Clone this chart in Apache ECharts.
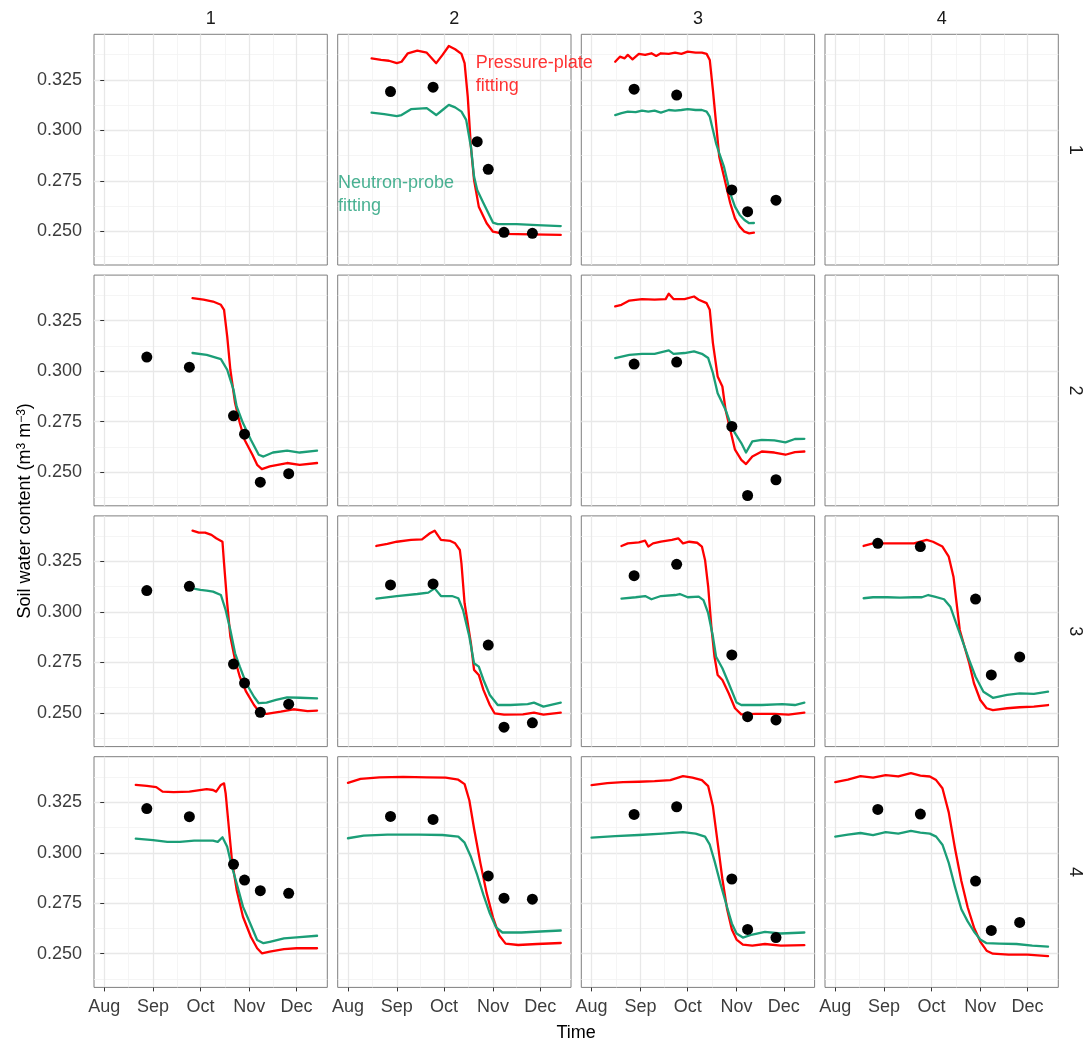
<!DOCTYPE html>
<html>
<head>
<meta charset="utf-8">
<script src="https://cdn.jsdelivr.net/npm/echarts@6/dist/echarts.min.js"></script>
<style>
  html, body { margin: 0; padding: 0; background: #ffffff; }
  #chart { width: 1088px; height: 1044px; }
</style>
</head>
<body>
<div id="chart"></div>
<script>
// ---------------- axes and sampling calendar ----------------
// x values are days counted from ORIGIN (1 Aug)
const ORIGIN = '2019-08-01';
const monthBreaks = ['2019-08-01', '2019-09-01', '2019-10-01', '2019-11-01', '2019-12-01'];
const monthLabels = ['Aug', 'Sep', 'Oct', 'Nov', 'Dec'];
const xLimits = ['2019-07-25T12:00:00Z', '2019-12-20T12:00:00Z'];
const yLimits = [0.2333, 0.3476];
const yBreaks = [0.250, 0.275, 0.300, 0.325];
const yMinorBreaks = [0.2375, 0.2625, 0.2875, 0.3125, 0.3375];
const sampleDates = ['2019-08-28', '2019-09-24', '2019-10-22', '2019-10-29', '2019-11-08', '2019-11-26'];
const colLabels = ['1', '2', '3', '4'];
const rowLabels = ['1', '2', '3', '4'];

// ---------------- fitted soil water content, [day, value] ----------------
const pressure12 = [[15,.3357],[21,.3349],[26,.3345],[31,.3333],[34,.3340],[38,.3382],[44,.3395],[50,.3385],[56,.3333],[60,.3374],[64,.3418],[68,.3402],[72,.3379],[74,.3333],[76,.3167],[78,.2919],[80,.2754],[83,.2622],[88,.2540],[92,.2498],[99,.2487],[116,.2485],[135,.2482]];
const neutron12 = [[15,.3088],[23,.3081],[31,.3071],[34,.3076],[40,.3105],[45,.3108],[50,.3110],[56,.3076],[60,.3101],[64,.3126],[68,.3114],[72,.3093],[75,.3052],[78,.2919],[80,.2771],[82,.2705],[86,.2639],[92,.2543],[95,.2536],[107,.2536],[120,.2531],[135,.2526]];

const pressure13 = [[15,.3340],[18,.3365],[21,.3357],[23,.3374],[26,.3352],[30,.3379],[34,.3374],[38,.3382],[41,.3369],[44,.3382],[49,.3379],[53,.3385],[57,.3379],[61,.3390],[66,.3385],[70,.3385],[73,.3379],[75,.3349],[77,.3200],[79,.3035],[81,.2870],[84,.2771],[86,.2705],[88,.2639],[91,.2564],[94,.2523],[97,.2498],[100,.2490],[103,.2493]];
const neutron13 = [[15,.3076],[19,.3085],[23,.3093],[28,.3090],[32,.3098],[36,.3093],[40,.3098],[44,.3088],[49,.3101],[53,.3098],[57,.3101],[61,.3105],[66,.3101],[70,.3101],[73,.3093],[75,.3068],[77,.3002],[79,.2936],[81,.2887],[84,.2820],[86,.2754],[88,.2688],[91,.2622],[94,.2581],[97,.2556],[100,.2540],[103,.2541]];

const pressure21 = [[56,.3362],[63,.3354],[69,.3345],[74,.3329],[76,.3304],[78,.3172],[80,.3007],[83,.2842],[86,.2743],[89,.2660],[94,.2586],[97,.2536],[100,.2515],[105,.2528],[116,.2545],[124,.2536],[135,.2545]];
const neutron21 = [[56,.3090],[65,.3081],[74,.3060],[78,.3007],[82,.2908],[84,.2825],[88,.2743],[93,.2660],[98,.2586],[101,.2577],[107,.2597],[116,.2606],[124,.2597],[135,.2606]];

const pressure23 = [[15,.3321],[19,.3329],[24,.3350],[32,.3357],[40,.3354],[47,.3357],[49,.3384],[52,.3357],[59,.3357],[65,.3370],[68,.3354],[73,.3337],[75,.3304],[77,.3139],[80,.2974],[83,.2924],[85,.2809],[88,.2710],[91,.2611],[95,.2561],[98,.2540],[102,.2577],[108,.2602],[116,.2597],[123,.2586],[129,.2599],[135,.2602]];
const neutron23 = [[15,.3065],[24,.3081],[32,.3086],[40,.3086],[49,.3103],[52,.3086],[59,.3090],[65,.3098],[70,.3086],[74,.3065],[77,.2991],[80,.2891],[85,.2809],[88,.2743],[91,.2693],[95,.2644],[98,.2597],[102,.2652],[108,.2660],[116,.2657],[123,.2647],[129,.2664],[135,.2665]];

const pressure31 = [[56,.3403],[60,.3393],[64,.3393],[68,.3382],[71,.3365],[75,.3348],[76,.3241],[78,.3043],[80,.2878],[83,.2762],[86,.2679],[90,.2605],[95,.2539],[99,.2498],[103,.2495],[112,.2506],[120,.2518],[129,.2509],[135,.2511]];
const neutron31 = [[56,.3117],[61,.3109],[65,.3106],[69,.3101],[74,.3084],[77,.3010],[80,.2911],[83,.2795],[86,.2729],[90,.2647],[95,.2580],[98,.2548],[103,.2551],[109,.2564],[116,.2577],[124,.2575],[135,.2572]];

const pressure32 = [[18,.3327],[25,.3337],[31,.3348],[40,.3357],[47,.3360],[52,.3390],[55,.3403],[59,.3357],[65,.3352],[68,.3340],[71,.3307],[72,.3241],[74,.3043],[78,.2845],[80,.2713],[83,.2688],[86,.2613],[90,.2539],[93,.2498],[99,.2491],[111,.2493],[118,.2501],[124,.2491],[135,.2501]];
const neutron32 = [[18,.3066],[31,.3079],[44,.3089],[51,.3096],[55,.3117],[59,.3079],[66,.3079],[70,.3068],[73,.3010],[77,.2878],[80,.2746],[83,.2729],[86,.2663],[90,.2589],[95,.2539],[103,.2539],[114,.2543],[118,.2551],[124,.2531],[135,.2551]];

const pressure33 = [[19,.3327],[23,.3340],[30,.3345],[34,.3353],[36,.3324],[39,.3340],[44,.3348],[51,.3357],[55,.3365],[58,.3340],[62,.3348],[67,.3343],[70,.3324],[72,.3258],[74,.3125],[76,.2927],[78,.2778],[80,.2688],[83,.2663],[87,.2597],[91,.2523],[95,.2493],[104,.2495],[116,.2495],[125,.2491],[135,.2501]];
const neutron33 = [[19,.3066],[28,.3073],[34,.3079],[38,.3063],[44,.3079],[53,.3084],[56,.3089],[61,.3073],[68,.3076],[71,.3059],[74,.2994],[77,.2878],[79,.2778],[83,.2721],[87,.2647],[92,.2551],[95,.2539],[108,.2539],[121,.2543],[129,.2539],[135,.2551]];

const pressure34 = [[18,.3327],[24,.3340],[33,.3340],[41,.3340],[50,.3340],[58,.3357],[62,.3348],[68,.3324],[72,.3274],[75,.3175],[77,.3043],[79,.2911],[82,.2828],[85,.2746],[88,.2647],[92,.2564],[96,.2523],[100,.2514],[109,.2523],[117,.2528],[126,.2531],[135,.2539]];
const neutron34 = [[18,.3068],[24,.3073],[33,.3073],[41,.3071],[50,.3073],[55,.3073],[59,.3084],[63,.3076],[69,.3063],[73,.3026],[76,.2960],[79,.2894],[82,.2828],[85,.2762],[89,.2679],[94,.2605],[100,.2575],[109,.2589],[117,.2597],[126,.2594],[135,.2605]];

const pressure41 = [[20,.3336],[27,.3331],[33,.3325],[37,.3303],[44,.3300],[54,.3303],[65,.3315],[69,.3311],[71,.3303],[74,.3336],[76,.3344],[77,.3295],[79,.3129],[81,.2964],[84,.2816],[88,.2683],[93,.2584],[97,.2527],[100,.2502],[105,.2510],[114,.2523],[122,.2527],[135,.2527]];
const neutron41 = [[20,.3070],[31,.3063],[40,.3054],[48,.3054],[57,.3060],[69,.3060],[72,.3054],[75,.3077],[78,.3030],[81,.2931],[84,.2849],[88,.2733],[93,.2642],[97,.2568],[101,.2552],[105,.2559],[114,.2576],[122,.2581],[135,.2589]];

const pressure42 = [[0,.3346],[8,.3366],[20,.3374],[35,.3376],[50,.3374],[62,.3372],[70,.3362],[74,.3340],[77,.3260],[80,.3120],[84,.2950],[88,.2800],[92,.2680],[96,.2590],[100,.2550],[108,.2543],[120,.2548],[135,.2553]];
const neutron42 = [[0,.3072],[10,.3085],[25,.3090],[45,.3090],[60,.3088],[70,.3080],[74,.3050],[78,.2980],[82,.2890],[86,.2790],[90,.2700],[94,.2630],[98,.2605],[110,.2605],[122,.2610],[135,.2615]];

const pressure43 = [[0,.3335],[10,.3345],[20,.3350],[30,.3352],[40,.3355],[50,.3360],[58,.3380],[64,.3372],[70,.3360],[74,.3330],[77,.3230],[80,.3050],[83,.2870],[86,.2720],[89,.2620],[92,.2570],[96,.2545],[102,.2540],[110,.2548],[120,.2540],[135,.2542]];
const neutron43 = [[0,.3075],[15,.3082],[30,.3088],[45,.3095],[58,.3102],[66,.3095],[72,.3080],[75,.3040],[78,.2960],[82,.2840],[86,.2730],[89,.2650],[92,.2600],[96,.2580],[102,.2595],[110,.2608],[120,.2600],[135,.2605]];

const pressure44 = [[0,.3350],[8,.3362],[16,.3380],[24,.3372],[32,.3385],[40,.3378],[48,.3395],[54,.3382],[60,.3378],[64,.3360],[68,.3320],[72,.3200],[76,.3020],[80,.2860],[84,.2730],[88,.2630],[92,.2560],[96,.2515],[100,.2500],[110,.2495],[122,.2495],[135,.2488]];
const neutron44 = [[0,.3080],[8,.3090],[16,.3098],[24,.3088],[32,.3102],[40,.3095],[48,.3108],[54,.3100],[60,.3095],[64,.3080],[68,.3040],[72,.2950],[76,.2830],[80,.2720],[84,.2660],[88,.2610],[92,.2570],[96,.2552],[104,.2550],[115,.2548],[125,.2540],[135,.2535]];

// ---------------- measured soil water content on sampleDates (null = not sampled) ----------------
const obs12 = [.3192, .3214, .2944, .2807, .2495, .2490];
const obs13 = [.3204, .3175, null, .2705, .2597, .2654];
const obs21 = [.3070, .3020, .2779, .2688, .2450, .2492];
const obs23 = [.3035, .3045, null, .2726, .2384, .2462];
const obs31 = [.3106, .3127, .2742, .2648, .2503, .2543];
const obs32 = [.3134, .3139, null, .2836, .2429, .2451];
const obs33 = [.3180, .3236, null, .2787, .2481, .2465];
const obs34 = [.3340, .3324, null, .3064, .2688, .2777];
const obs41 = [.3219, .3179, .2943, .2865, .2812, .2799];
const obs42 = [.3180, .3165, null, .2885, .2775, .2770];
const obs43 = [.3190, .3228, null, .2870, .2620, .2580];
const obs44 = [.3215, .3192, null, .2860, .2615, .2655];

// in-panel labels for the two fitted curves (row 1, column 2)
const curveNotes = [
  { text: 'Pressure-plate\nfitting', day: 81, value: 0.3279, kind: 'pressure' },
  { text: 'Neutron-probe\nfitting', day: -6.3, value: 0.2684, kind: 'neutron' }
];

const panels = [
  { row: 1, col: 2, pressure: pressure12, neutron: neutron12, obs: obs12 },
  { row: 1, col: 3, pressure: pressure13, neutron: neutron13, obs: obs13 },
  { row: 2, col: 1, pressure: pressure21, neutron: neutron21, obs: obs21 },
  { row: 2, col: 3, pressure: pressure23, neutron: neutron23, obs: obs23 },
  { row: 3, col: 1, pressure: pressure31, neutron: neutron31, obs: obs31 },
  { row: 3, col: 2, pressure: pressure32, neutron: neutron32, obs: obs32 },
  { row: 3, col: 3, pressure: pressure33, neutron: neutron33, obs: obs33 },
  { row: 3, col: 4, pressure: pressure34, neutron: neutron34, obs: obs34 },
  { row: 4, col: 1, pressure: pressure41, neutron: neutron41, obs: obs41 },
  { row: 4, col: 2, pressure: pressure42, neutron: neutron42, obs: obs42 },
  { row: 4, col: 3, pressure: pressure43, neutron: neutron43, obs: obs43 },
  { row: 4, col: 4, pressure: pressure44, neutron: neutron44, obs: obs44 }
];

// ---------------- helpers ----------------
const DAY_MS = 86400000;
const T0 = Date.parse(ORIGIN + 'T00:00:00Z');
const toDay = s => (Date.parse(s.length === 10 ? s + 'T00:00:00Z' : s) - T0) / DAY_MS;
const monthDays = monthBreaks.map(toDay);
const monthMinorDays = monthDays.slice(1).map((d, i) => (d + monthDays[i]) / 2);
const sampleDays = sampleDates.map(toDay);
const X_MIN = toDay(xLimits[0]);
const X_MAX = toDay(xLimits[1]);

const FONT = '"Liberation Sans", Arial, Helvetica, sans-serif';
const COLORS = { pressure: '#ff0000', neutron: '#1b9e77' };
const COL_LEFT = [94, 337.7, 581.3, 825];
const ROW_TOP = [34.3, 275.1, 515.9, 756.7];
const PW = 233.3, PH = 230.7;

const grids = [], xAxes = [], yAxes = [], series = [];

for (let r = 0; r < 4; r++) {
  for (let c = 0; c < 4; c++) {
    const gi = r * 4 + c;
    grids.push({
      left: COL_LEFT[c], top: ROW_TOP[r], width: PW, height: PH,
      show: true, backgroundColor: '#ffffff',
      borderColor: '#7f7f7f', borderWidth: 1,
      containLabel: false, outerBoundsMode: 'none'
    });
    const bottomRow = r === 3, leftCol = c === 0;
    // main x axis: month breaks
    xAxes.push({
      type: 'value', gridIndex: gi, min: X_MIN, max: X_MAX, position: 'bottom',
      axisLine: { show: false },
      axisTick: { show: bottomRow, customValues: monthDays, length: 4, lineStyle: { color: '#333333', width: 1 } },
      axisLabel: {
        show: bottomRow, customValues: monthDays, margin: 11,
        formatter: v => monthLabels[monthDays.indexOf(v)] || '',
        fontSize: 18, fontFamily: FONT, color: '#3d3d3d'
      },
      splitLine: { show: true, lineStyle: { color: '#e8e8e8', width: 1.3 } }
    });
    // secondary x axis: mid-month minor grid
    xAxes.push({
      type: 'value', gridIndex: gi, min: X_MIN, max: X_MAX, position: 'top',
      axisLine: { show: false },
      axisTick: { show: false, customValues: monthMinorDays },
      axisLabel: { show: false },
      splitLine: { show: true, lineStyle: { color: '#f2f2f2', width: 0.8 } }
    });
    yAxes.push({
      type: 'value', gridIndex: gi, min: yLimits[0], max: yLimits[1], position: 'left',
      axisLine: { show: false },
      axisTick: { show: leftCol, customValues: yBreaks, length: 4, lineStyle: { color: '#333333', width: 1 } },
      axisLabel: {
        show: leftCol, customValues: yBreaks, margin: 12,
        formatter: v => v.toFixed(3),
        fontSize: 18, fontFamily: FONT, color: '#3d3d3d'
      },
      splitLine: { show: true, lineStyle: { color: '#e8e8e8', width: 1.3 } }
    });
    yAxes.push({
      type: 'value', gridIndex: gi, min: yLimits[0], max: yLimits[1], position: 'right',
      axisLine: { show: false },
      axisTick: { show: false, customValues: yMinorBreaks },
      axisLabel: { show: false },
      splitLine: { show: true, lineStyle: { color: '#f2f2f2', width: 0.8 } }
    });
  }
}

function lineSeries(gi, data, kind) {
  return {
    type: 'line', xAxisIndex: 2 * gi, yAxisIndex: 2 * gi, data: data,
    showSymbol: false, symbol: 'none', silent: true, animation: false,
    lineStyle: { color: COLORS[kind], width: 2.3, cap: 'round', join: 'round' },
    itemStyle: { color: COLORS[kind] },
    z: kind === 'pressure' ? 3 : 4
  };
}

panels.forEach(p => {
  const gi = (p.row - 1) * 4 + (p.col - 1);
  series.push(lineSeries(gi, p.pressure, 'pressure'));
  series.push(lineSeries(gi, p.neutron, 'neutron'));
  const pts = sampleDays.map((d, i) => [d, p.obs[i]]).filter(q => q[1] != null);
  series.push({
    type: 'scatter', xAxisIndex: 2 * gi, yAxisIndex: 2 * gi, data: pts,
    symbol: 'circle', symbolSize: 11, silent: true, animation: false,
    itemStyle: { color: '#000000', opacity: 1 }, z: 5
  });
});

// curve labels, placed in data space of panel (1, 2)
curveNotes.forEach(n => {
  series.push({
    type: 'scatter', xAxisIndex: 2, yAxisIndex: 2,
    data: [[n.day, n.value]], symbolSize: 0, silent: true, animation: false, z: 6,
    label: {
      show: true, position: [0, 0], align: 'left', verticalAlign: 'middle',
      formatter: n.text, color: COLORS[n.kind], fontSize: 18, lineHeight: 23, fontFamily: FONT
    }
  });
});

// facet strips and axis titles
const graphics = [];
colLabels.forEach((t, c) => graphics.push({
  type: 'text', x: COL_LEFT[c] + PW / 2, y: 19,
  style: { text: t, fill: '#1a1a1a', font: '18px ' + FONT, fontSize: 18, fontFamily: FONT,
           align: 'center', verticalAlign: 'middle', textAlign: 'center', textVerticalAlign: 'middle' }
}));
rowLabels.forEach((t, r) => graphics.push({
  type: 'text', x: 1075, y: ROW_TOP[r] + PH / 2, rotation: -Math.PI / 2,
  style: { text: t, fill: '#1a1a1a', font: '18px ' + FONT, fontSize: 18, fontFamily: FONT,
           align: 'center', verticalAlign: 'middle', textAlign: 'center', textVerticalAlign: 'middle' }
}));
graphics.push({
  type: 'text', x: (COL_LEFT[0] + COL_LEFT[3] + PW) / 2, y: 1033,
  style: { text: 'Time', fill: '#000000', font: '18px ' + FONT, fontSize: 18, fontFamily: FONT,
           align: 'center', verticalAlign: 'middle', textAlign: 'center', textVerticalAlign: 'middle' }
});
graphics.push({
  type: 'text', x: 25, y: (ROW_TOP[0] + ROW_TOP[3] + PH) / 2, rotation: Math.PI / 2,
  style: {
    text: 'Soil water content (m{sup|3} m{sup|\u22123})',
    fill: '#000000', font: '18px ' + FONT, fontSize: 18, fontFamily: FONT,
    align: 'center', verticalAlign: 'middle', textAlign: 'center', textVerticalAlign: 'middle',
    rich: { sup: { fontSize: 12, fontFamily: FONT, font: '12px ' + FONT, fill: '#000000', verticalAlign: 'top', lineHeight: 12 } }
  }
});

const chart = echarts.init(document.getElementById('chart'), null, { renderer: 'canvas', width: 1088, height: 1044 });
chart.setOption({
  backgroundColor: '#ffffff',
  animation: false,
  grid: grids,
  xAxis: xAxes,
  yAxis: yAxes,
  series: series,
  graphic: graphics
});
</script>
</body>
</html>
